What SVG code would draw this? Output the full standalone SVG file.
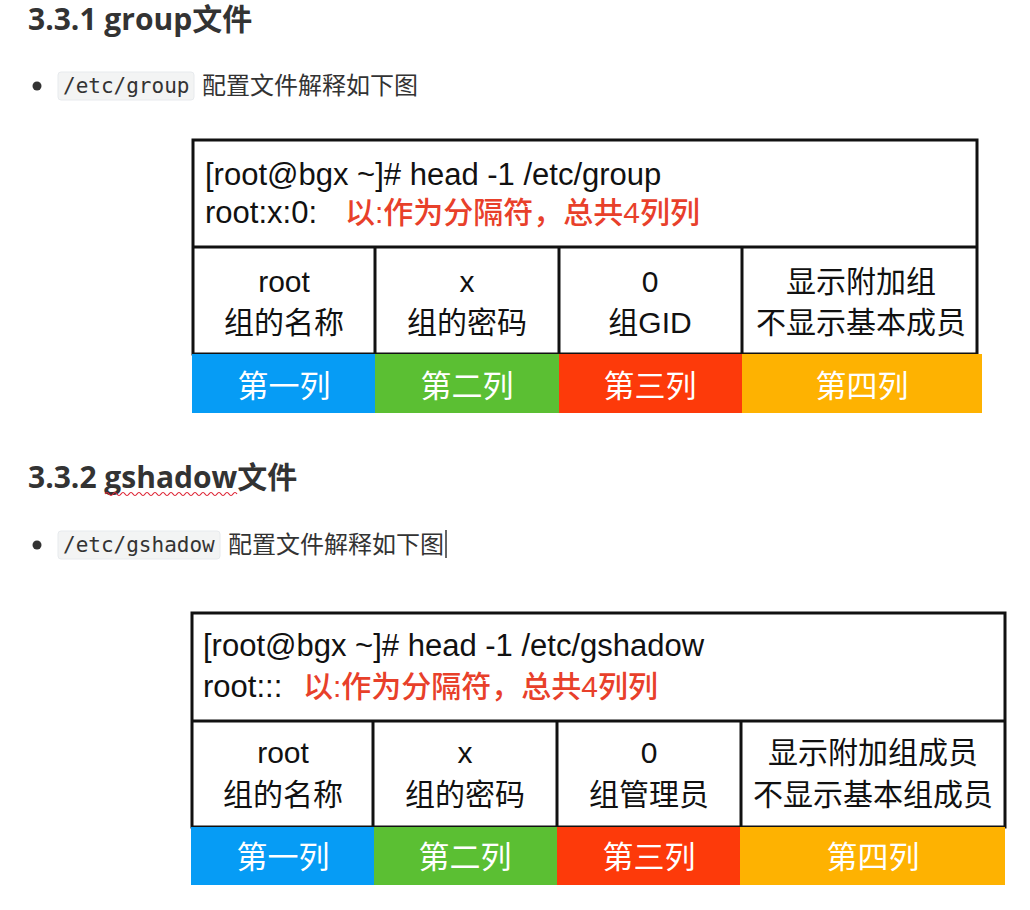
<svg xmlns="http://www.w3.org/2000/svg" width="1030" height="910" viewBox="0 0 1030 910">
<style>
.h{font-family:"Open Sans","Noto Sans CJK SC",sans-serif;font-weight:bold;font-size:30px;fill:#333}
.code{font-family:"DejaVu Sans Mono","Liberation Mono",monospace;font-size:21px;fill:#333}
.codebg{fill:#f3f4f4;stroke:#e7eaed;stroke-width:1}
.p{font-family:"Open Sans","Noto Sans CJK SC",sans-serif;font-size:24px;fill:#333}
.t{font-family:"Liberation Sans","Noto Sans CJK SC",sans-serif;font-size:31px;fill:#111}
.red{fill:#e8402a;font-size:30px;font-weight:500}
.c{font-family:"Liberation Sans","Noto Sans CJK SC",sans-serif;font-size:30px;fill:#111;text-anchor:middle}
.w{font-family:"Noto Sans CJK SC",sans-serif;font-size:31px;fill:#fff;text-anchor:middle}
.box{fill:#fff;stroke:#111;stroke-width:3}
.ln{stroke:#111;stroke-width:3}
</style>
<rect width="1030" height="910" fill="#fff"/>
<g id="heading1">
<text class="h" x="28" y="30">3.3.1 group文件</text>
</g>
<g id="bullet1">
<circle cx="37" cy="86" r="4.5" fill="#333"/>
<rect class="codebg" x="58" y="72" width="136" height="28" rx="3"/>
<text class="code" x="63" y="93">/etc/group</text>
<text class="p" x="202" y="94">配置文件解释如下图</text>
</g>
<g id="table1">
<rect class="box" x="193" y="140" width="784" height="214"/>
<line class="ln" x1="193" y1="247" x2="977" y2="247"/>
<line class="ln" x1="375" y1="247" x2="375" y2="354"/>
<line class="ln" x1="559" y1="247" x2="559" y2="354"/>
<line class="ln" x1="742" y1="247" x2="742" y2="354"/>
<text class="t" x="205" y="185">[root@bgx ~]# head -1 /etc/group</text>
<text class="t" x="205" y="223">root:x:0:<tspan class="red" x="345">以:作为分隔符，总共4列列</tspan></text>
<text class="c" x="284" y="292">root</text>
<text class="c" x="284" y="333">组的名称</text>
<text class="c" x="467" y="292">x</text>
<text class="c" x="467" y="333">组的密码</text>
<text class="c" x="650" y="292">0</text>
<text class="c" x="650" y="333">组GID</text>
<text class="c" x="861" y="292">显示附加组</text>
<text class="c" x="861" y="333">不显示基本成员</text>
<rect x="192" y="354" width="183" height="59" fill="#069cf5"/>
<rect x="375" y="354" width="184" height="59" fill="#5bbf33"/>
<rect x="559" y="354" width="183" height="59" fill="#fd3a0a"/>
<rect x="742" y="354" width="240" height="59" fill="#feb201"/>
<text class="w" x="284" y="397">第一列</text>
<text class="w" x="467" y="397">第二列</text>
<text class="w" x="650" y="397">第三列</text>
<text class="w" x="862" y="397">第四列</text>
</g>
<g id="heading2">
<text class="h" x="28" y="488">3.3.2 gshadow文件</text>
<path d="M105 494 q2 -3 4 0 t4 0 t4 0 t4 0 t4 0 t4 0 t4 0 t4 0 t4 0 t4 0 t4 0 t4 0 t4 0 t4 0 t4 0 t4 0 t4 0 t4 0 t4 0 t4 0 t4 0 t4 0 t4 0 t4 0 t4 0 t4 0 t4 0 t4 0 t4 0 t4 0 t4 0 t4 0 t4 0" fill="none" stroke="#d23" stroke-width="1.2"/>
</g>
<g id="bullet2">
<circle cx="37" cy="545" r="4.5" fill="#333"/>
<rect class="codebg" x="58" y="531" width="162" height="28" rx="3"/>
<text class="code" x="63" y="552">/etc/gshadow</text>
<text class="p" x="228" y="553">配置文件解释如下图</text>
<line x1="446" y1="530" x2="446" y2="558" stroke="#333" stroke-width="1.5"/>
</g>
<g id="table2">
<rect class="box" x="192" y="613" width="813" height="214"/>
<line class="ln" x1="192" y1="721" x2="1005" y2="721"/>
<line class="ln" x1="373" y1="721" x2="373" y2="827"/>
<line class="ln" x1="557" y1="721" x2="557" y2="827"/>
<line class="ln" x1="741" y1="721" x2="741" y2="827"/>
<text class="t" x="203" y="656">[root@bgx ~]# head -1 /etc/gshadow</text>
<text class="t" x="203" y="697">root:::<tspan class="red" x="303">以:作为分隔符，总共4列列</tspan></text>
<text class="c" x="283" y="763">root</text>
<text class="c" x="283" y="805">组的名称</text>
<text class="c" x="465" y="763">x</text>
<text class="c" x="465" y="805">组的密码</text>
<text class="c" x="649" y="763">0</text>
<text class="c" x="649" y="805">组管理员</text>
<text class="c" x="873" y="763">显示附加组成员</text>
<text class="c" x="873" y="805">不显示基本组成员</text>
<rect x="191" y="827" width="183" height="58" fill="#069cf5"/>
<rect x="374" y="827" width="183" height="58" fill="#5bbf33"/>
<rect x="557" y="827" width="183" height="58" fill="#fd3a0a"/>
<rect x="740" y="827" width="265" height="58" fill="#feb201"/>
<text class="w" x="283" y="868">第一列</text>
<text class="w" x="465" y="868">第二列</text>
<text class="w" x="649" y="868">第三列</text>
<text class="w" x="873" y="868">第四列</text>
</g>
</svg>
